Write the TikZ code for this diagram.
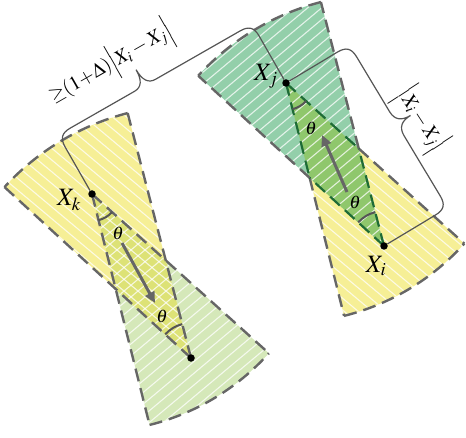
\documentclass[tikz,border=0pt]{standalone}
\usepackage{mathptmx}
\usetikzlibrary{arrows.meta}
\definecolor{cyellow}{HTML}{F6EF96}
\definecolor{cteal}{HTML}{93CFAA}
\definecolor{clgreen}{HTML}{D5E8B9}
\definecolor{cdkgreen}{HTML}{8FC76C}
\definecolor{cygreen}{HTML}{DDE276}
\definecolor{edgegray}{HTML}{666666}
\definecolor{edgegreen}{HTML}{1E6B36}
\definecolor{bracegray}{HTML}{555555}
\tikzset{
  dot/.style={circle, fill=black, inner sep=0pt, minimum size=7.5pt},
  coneedge/.style={draw=edgegray, line width=2.4pt, dash pattern=on 13pt off 7pt},
  kiteedge/.style={draw=edgegreen, line width=2.2pt, dash pattern=on 13pt off 7pt},
  hatchline/.style={white, line width=1.1pt, opacity=0.75},
  anglearc/.style={draw=bracegray, line width=2pt},
  bracepath/.style={draw=bracegray, line width=1.2pt},
  dirarrow/.style={draw=edgegray, line width=3pt, -{Triangle[length=11pt,width=10pt]}},
  ptlabel/.style={font=\fontsize{25}{29}\selectfont, text=black, inner sep=0pt},
  lenlabel/.style={font=\fontsize{20}{24}\selectfont, text=black, inner sep=0pt},
  anglabel/.style={font=\fontsize{18}{21}\selectfont, text=black, inner sep=0pt}
}
\newcommand\hatchNE{\foreach \c in {-540,-526,...,480} {\draw[hatchline] (\c pt,0pt) -- ++(521pt,437pt);}}
\newcommand\hatchNW{\foreach \c in {-10,4,...,1000} {\draw[hatchline] (\c pt,0pt) -- ++(-521pt,437pt);}}
\begin{document}
\begin{tikzpicture}[x=1pt,y=1pt]
\useasboundingbox (0,0) rectangle (466,437);
% apex positions
\coordinate (cXj) at (286,354);
\coordinate (cXi) at (384,191);
\coordinate (cXk) at (92,243);
\coordinate (cXl) at (191,79);
% cone ends
\path (cXj) ++(-76:240pt) coordinate (jL);
\path (cXj) ++(-42:240pt) coordinate (jR);
\path (cXi) ++(137.5:252pt) coordinate (iL);
\path (cXi) ++(104.5:252pt) coordinate (iR);
\path (cXk) ++(-76:238pt) coordinate (kL);
\path (cXk) ++(-42:238pt) coordinate (kR);
\path (cXl) ++(137.5:253pt) coordinate (lL);
\path (cXl) ++(104.5:253pt) coordinate (lR);
\coordinate (P) at (intersection of cXj--jL and cXi--iL);
\coordinate (Q) at (intersection of cXj--jR and cXi--iR);
\coordinate (Pk) at (intersection of cXk--kL and cXl--lL);
\coordinate (Qk) at (intersection of cXk--kR and cXl--lR);

% ---------- right pair ----------
\fill[cyellow] (cXj) -- (jL) arc[start angle=-76,end angle=-42,radius=240pt] -- cycle;
\begin{scope}\clip (cXj) -- (jL) arc[start angle=-76,end angle=-42,radius=240pt] -- cycle; \hatchNW \end{scope}
\fill[cteal] (cXi) -- (iR) arc[start angle=104.5,end angle=137.5,radius=252pt] -- cycle;
\begin{scope}\clip (cXi) -- (iR) arc[start angle=104.5,end angle=137.5,radius=252pt] -- cycle; \hatchNE \end{scope}
\fill[cdkgreen] (cXj) -- (P) -- (cXi) -- (Q) -- cycle;
\begin{scope}\clip (cXj) -- (P) -- (cXi) -- (Q) -- cycle; \hatchNE \end{scope}

% ---------- left pair ----------
\fill[clgreen] (cXk) -- (kL) arc[start angle=-76,end angle=-42,radius=238pt] -- cycle;
\begin{scope}\clip (cXk) -- (kL) arc[start angle=-76,end angle=-42,radius=238pt] -- cycle; \hatchNE \end{scope}
\fill[cyellow] (cXl) -- (lR) arc[start angle=104.5,end angle=137.5,radius=253pt] -- cycle;
\begin{scope}\clip (cXl) -- (lR) arc[start angle=104.5,end angle=137.5,radius=253pt] -- cycle; \hatchNW \end{scope}
\fill[cygreen] (cXk) -- (Pk) -- (cXl) -- (Qk) -- cycle;
\begin{scope}\clip (cXk) -- (Pk) -- (cXl) -- (Qk) -- cycle; \hatchNE \hatchNW \end{scope}

% ---------- outlines ----------
\draw[coneedge] (P) -- (jL);
\draw[coneedge] (Q) -- (jR);
\draw[coneedge] (P) -- (iL);
\draw[coneedge] (Q) -- (iR);
\draw[coneedge] (jL) arc[start angle=-76,end angle=-42,radius=240pt];
\draw[coneedge] (iR) arc[start angle=104.5,end angle=137.5,radius=252pt];
\draw[kiteedge] (cXj) -- (P);
\draw[kiteedge] (cXj) -- (Q);
\draw[kiteedge] (cXi) -- (P);
\draw[kiteedge] (cXi) -- (Q);

\draw[coneedge] (cXk) -- (kL);
\draw[coneedge] (cXk) -- (kR);
\draw[coneedge] (cXl) -- (lL);
\draw[coneedge] (cXl) -- (lR);
\draw[coneedge] (kL) arc[start angle=-76,end angle=-42,radius=238pt];
\draw[coneedge] (lR) arc[start angle=104.5,end angle=137.5,radius=253pt];

% ---------- angle arcs ----------
\draw[anglearc] (cXj) ++(-76:27pt) arc[start angle=-76,end angle=-42,radius=27pt];
\draw[anglearc] (cXi) ++(104.5:35pt) arc[start angle=104.5,end angle=137.5,radius=35pt];
\draw[anglearc] (cXk) ++(-76:27pt) arc[start angle=-76,end angle=-42,radius=27pt];
\draw[anglearc] (cXl) ++(104.5:35pt) arc[start angle=104.5,end angle=137.5,radius=35pt];

% ---------- direction arrows ----------
\coordinate (ra1) at (347,245);
\coordinate (ra2) at (322,302);
\coordinate (la1) at (122,194);
\coordinate (la2) at (155,134);
\draw[dirarrow] (ra1) -- (ra2);
\draw[dirarrow] (la1) -- (la2);

% ---------- points ----------
\node[dot] (Xj) at (cXj) {};
\node[dot] (Xi) at (cXi) {};
\node[dot] (Xk) at (cXk) {};
\node[dot] (Xl) at (cXl) {};

% ---------- braces ----------
\draw[bracepath] (Xk) -- (65.18,289.87) .. controls (60.22,298.55) and (61.70,304.01) .. (70.38,308.97)
  -- (134.61,345.72) .. controls (141.56,349.69) and (142.05,356.89) .. (136.09,367.31)
  .. controls (142.05,356.89) and (148.50,353.67) .. (155.45,357.64)
  -- (240.08,406.06) .. controls (248.76,411.02) and (254.22,409.55) .. (259.18,400.87) -- (Xj);
\draw[bracepath] (Xj) -- (337.42,384.91) .. controls (345.99,390.06) and (351.48,388.69) .. (356.63,380.12)
  -- (389.61,325.27) .. controls (394.76,316.70) and (401.96,316.38) .. (410.53,321.53)
  .. controls (401.96,316.38) and (398.88,309.85) .. (404.03,301.28)
  -- (440.20,241.12) .. controls (445.35,232.55) and (443.98,227.06) .. (435.41,221.91) -- (Xi);

% ---------- labels ----------
\node[ptlabel] (lXj) at (266,361) {$X_j$};
\node[ptlabel] (lXi) at (376,171) {$X_i$};
\node[ptlabel] (lXk) at (69,237) {$X_k$};
\node[anglabel] (t1) at (311,309) {$\theta$};
\node[anglabel] (t2) at (355,235) {$\theta$};
\node[anglabel] (t3) at (118,204) {$\theta$};
\node[anglabel] (t4) at (162,121) {$\theta$};
\node[lenlabel, rotate=29.8] (len1) at (111,373) {${\geq}(1{+}\Delta)\Bigl|X_i - X_j\Bigr|$};
\node[lenlabel, rotate=-57] (len2) at (421,317) {$\Bigl|X_i - X_j\Bigr|$};
\end{tikzpicture}
\end{document}
